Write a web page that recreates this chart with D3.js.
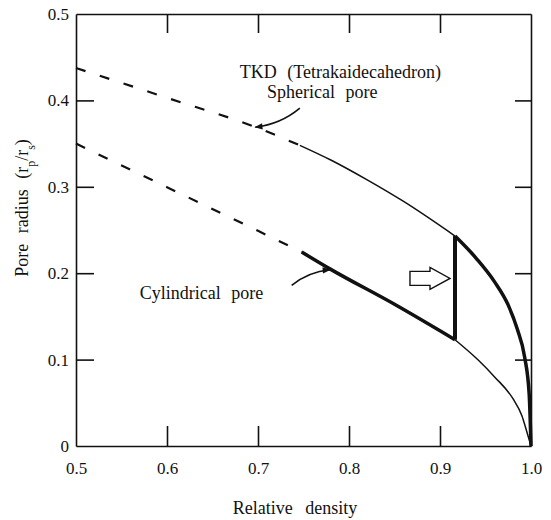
<!DOCTYPE html>
<html>
<head>
<meta charset="utf-8">
<script src="https://cdn.jsdelivr.net/npm/d3@7"></script>
<style>
  body { margin: 0; background: #fff; }
</style>
</head>
<body>
<div id="viz"></div>
<script>
// relative density / pore radius
var sphDashDensity = [0.5, 0.6, 0.7, 0.746];
var sphDashRadius = [0.4375, 0.403, 0.368, 0.348];
var sphThinDensity = [0.746, 0.78, 0.82, 0.86, 0.9165];
var sphThinRadius = [0.348, 0.331, 0.308, 0.283, 0.243];
var sphThickDensity = [0.9165, 0.94, 0.96, 0.975, 0.985, 0.993, 0.998, 1.0];
var sphThickRadius = [0.243, 0.217, 0.19, 0.163, 0.135, 0.103, 0.06, 0.0];

var cylDashDensity = [0.5, 0.6, 0.7, 0.748];
var cylDashRadius = [0.35, 0.2995, 0.249, 0.2245];
var cylThickDensity = [0.748, 0.779, 0.85, 0.9165];
var cylThickRadius = [0.2245, 0.205, 0.164, 0.123];
var cylThinDensity = [0.9165, 0.942, 0.96, 0.98, 0.99, 0.995, 1.0];
var cylThinRadius = [0.123, 0.0995, 0.08, 0.055, 0.035, 0.018, 0.0];

var transitionDensity = [0.9165, 0.9165];
var transitionRadius = [0.123, 0.243];

var xTicks = [0.5, 0.6, 0.7, 0.8, 0.9, 1.0];
var xTickLabels = ["0.5", "0.6", "0.7", "0.8", "0.9", "1.0"];
var yTicks = [0, 0.1, 0.2, 0.3, 0.4, 0.5];
var yTickLabels = ["0", "0.1", "0.2", "0.3", "0.4", "0.5"];

(function() {
  var width = 551, height = 520;
  var mLeft = 76, mRight = 531, mTop = 14, mBottom = 446;
  var serif = "'Liberation Serif', 'DejaVu Serif', serif";

  var svg = d3.select("#viz").append("svg")
      .attr("width", width)
      .attr("height", height)
      .attr("font-family", serif);

  var x = d3.scaleLinear().domain([0.5, 1.0]).range([mLeft, mRight]);
  var y = d3.scaleLinear().domain([0, 0.5]).range([mBottom, mTop]);

  svg.append("defs").append("marker")
      .attr("id", "head")
      .attr("viewBox", "0 0 10 10")
      .attr("refX", 9).attr("refY", 5)
      .attr("markerWidth", 13).attr("markerHeight", 8)
      .attr("markerUnits", "userSpaceOnUse")
      .attr("orient", "auto")
    .append("path")
      .attr("d", "M0,1 L10,5 L0,9 z")
      .style("fill", "#111");

  // axes, ticks pointing inwards
  function styleAxis(g) {
    g.attr("font-family", serif).attr("font-size", 17);
    g.select(".domain").style("stroke", "#111").style("stroke-width", 1.6);
    g.selectAll(".tick line").style("stroke", "#111").style("stroke-width", 1.6);
    g.selectAll(".tick text").style("fill", "#111");
  }

  svg.append("g")
      .attr("transform", "translate(0," + mBottom + ")")
      .call(d3.axisBottom(x).tickValues(xTicks).tickSizeInner(-20).tickSizeOuter(0).tickPadding(16)
        .tickFormat(function(d, i) { return xTickLabels[i]; }))
      .call(styleAxis)
      .call(function(g) { g.selectAll(".tick").filter(function(d) { return d === 0.5 || d === 1.0; }).select("line").remove(); });

  svg.append("g")
      .attr("transform", "translate(0," + mTop + ")")
      .call(d3.axisTop(x).tickValues([0.6, 0.7, 0.8, 0.9]).tickSizeInner(-19).tickSizeOuter(0).tickFormat(""))
      .call(styleAxis);

  svg.append("g")
      .attr("transform", "translate(" + mLeft + ",0)")
      .call(d3.axisLeft(y).tickValues(yTicks).tickSizeInner(-18).tickSizeOuter(0).tickPadding(7)
        .tickFormat(function(d, i) { return yTickLabels[i]; }))
      .call(styleAxis)
      .call(function(g) { g.selectAll(".tick").filter(function(d) { return d === 0 || d === 0.5; }).select("line").remove(); });

  svg.append("g")
      .attr("transform", "translate(" + mRight + ",0)")
      .call(d3.axisRight(y).tickValues([0.1, 0.2, 0.3, 0.4]).tickSizeInner(-16).tickSizeOuter(0).tickFormat(""))
      .call(styleAxis);

  // curves
  var line = d3.line()
      .x(function(d) { return x(d[0]); })
      .y(function(d) { return y(d[1]); })
      .curve(d3.curveMonotoneX);

  function pairs(xs, ys) { return xs.map(function(v, i) { return [v, ys[i]]; }); }

  function drawLine(xs, ys, w, dash) {
    svg.append("path")
      .datum(pairs(xs, ys))
      .attr("d", line)
      .style("fill", "none")
      .style("stroke", "#111")
      .style("stroke-width", w)
      .style("stroke-dasharray", dash || null);
  }

  drawLine(sphDashDensity, sphDashRadius, 2.2, "10,15");
  drawLine(sphThinDensity, sphThinRadius, 1.5);
  drawLine(sphThickDensity, sphThickRadius, 3.5);
  drawLine(cylDashDensity, cylDashRadius, 2.2, "10,15");
  drawLine(cylThickDensity, cylThickRadius, 3.5);
  drawLine(cylThinDensity, cylThinRadius, 1.5);

  svg.append("line")
      .attr("x1", x(transitionDensity[0])).attr("y1", y(transitionRadius[0]))
      .attr("x2", x(transitionDensity[1])).attr("y2", y(transitionRadius[1]))
      .style("stroke", "#111").style("stroke-width", 4);

  // annotations
  var labels = [
    {text: "TKD (Tetrakaidecahedron)", d: 0.68, r: 0.433},
    {text: "Spherical pore", d: 0.71, r: 0.41},
    {text: "Cylindrical pore", d: 0.57, r: 0.177}
  ];
  svg.selectAll(".note")
    .data(labels)
    .enter()
    .append("text")
      .attr("class", "note")
      .attr("x", function(d) { return x(d.d); })
      .attr("y", function(d) { return y(d.r); })
      .attr("dy", "0.35em")
      .attr("font-size", 18)
      .style("fill", "#111")
      .style("word-spacing", "6px")
      .text(function(d) { return d.text; });

  var pointers = [
    {from: [0.746, 0.391], to: [0.697, 0.369]},
    {from: [0.737, 0.186], to: [0.779, 0.204]}
  ];
  svg.selectAll(".pointer")
    .data(pointers)
    .enter()
    .append("path")
      .attr("class", "pointer")
      .attr("d", function(d) {
        var x0 = x(d.from[0]), y0 = y(d.from[1]), x1 = x(d.to[0]), y1 = y(d.to[1]);
        var cx = (x0 + x1) / 2 + (y1 - y0) * 0.15, cy = (y0 + y1) / 2 - (x1 - x0) * 0.15;
        return "M" + x0 + "," + y0 + " Q" + cx + "," + cy + " " + x1 + "," + y1;
      })
      .style("fill", "none")
      .style("stroke", "#111")
      .style("stroke-width", 1.6)
      .attr("marker-end", "url(#head)");

  // hollow arrow pointing at the transition
  var hollowTail = 0.867, hollowTip = 0.911, hollowR = 0.194;
  var hx0 = x(hollowTail), hx1 = x(hollowTip), hy = y(hollowR);
  var hmid = hx0 + (hx1 - hx0) * 0.5;
  svg.append("path")
      .attr("d", "M" + hx0 + "," + (hy - 7) + " L" + hmid + "," + (hy - 7) + " L" + hmid + "," + (hy - 11) +
        " L" + hx1 + "," + hy + " L" + hmid + "," + (hy + 11) + " L" + hmid + "," + (hy + 7) +
        " L" + hx0 + "," + (hy + 7) + " Z")
      .style("fill", "#fff")
      .style("stroke", "#111")
      .style("stroke-width", 1.4);

  // axis titles
  svg.append("text")
      .attr("x", 295)
      .attr("y", 508)
      .attr("text-anchor", "middle")
      .attr("dy", "0.35em")
      .attr("font-size", 18)
      .style("fill", "#111")
      .style("word-spacing", "8px")
      .text("Relative density");

  var yl = svg.append("text")
      .attr("transform", "translate(22,208) rotate(-90)")
      .attr("text-anchor", "middle")
      .attr("dy", "0.35em")
      .attr("font-size", 18)
      .style("fill", "#111")
      .style("word-spacing", "6px");
  yl.append("tspan").text("Pore radius (r");
  yl.append("tspan").attr("baseline-shift", "sub").attr("font-size", 12).text("p");
  yl.append("tspan").text("/r");
  yl.append("tspan").attr("baseline-shift", "sub").attr("font-size", 12).text("s");
  yl.append("tspan").text(")");
})();
</script>
</body>
</html>
